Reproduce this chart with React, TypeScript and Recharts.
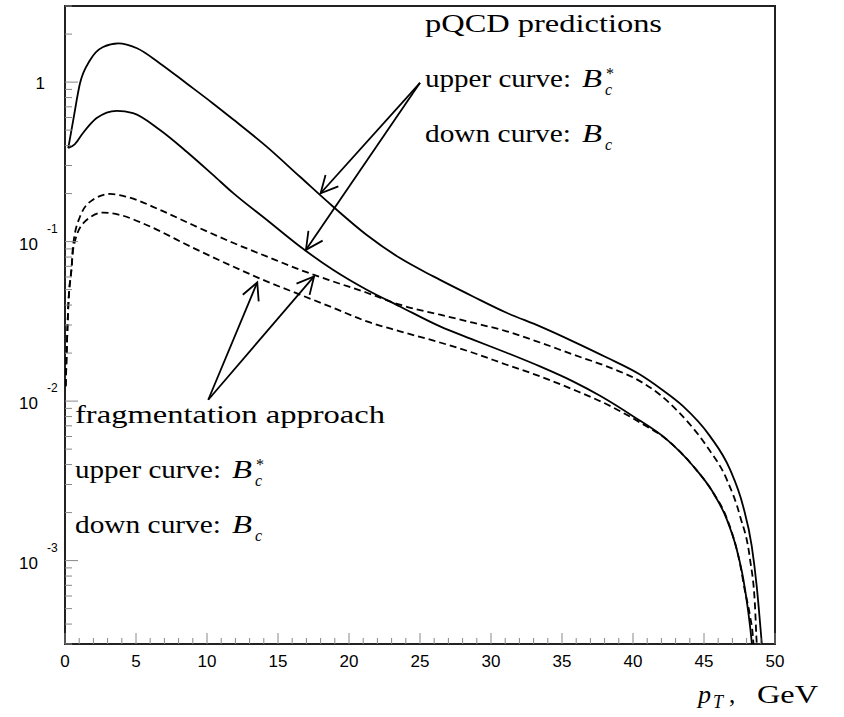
import React from "react";
import { LineChart, Line, XAxis, YAxis, ReferenceArea, ReferenceLine } from "recharts";

// pQCD prediction, B_c^* (upper solid curve)
const pqcdStar = [
  { x: 0.23, y: 0.386 }, { x: 0.58, y: 0.578 }, { x: 1.06, y: 0.986 }, { x: 1.76, y: 1.37 },
  { x: 2.68, y: 1.66 }, { x: 3.75, y: 1.75 }, { x: 5.07, y: 1.63 }, { x: 6.69, y: 1.31 },
  { x: 8.57, y: 0.98 }, { x: 10.42, y: 0.735 }, { x: 11.83, y: 0.585 }, { x: 14.2, y: 0.394 },
  { x: 16.55, y: 0.255 }, { x: 18.87, y: 0.166 }, { x: 21.25, y: 0.11 }, { x: 23.59, y: 0.0788 },
  { x: 25.94, y: 0.0605 }, { x: 28.73, y: 0.0453 }, { x: 31.1, y: 0.0358 }, { x: 33.45, y: 0.0294 },
  { x: 35.77, y: 0.0237 }, { x: 38.15, y: 0.01875 }, { x: 40.49, y: 0.01466 }, { x: 42.0, y: 0.01186 },
  { x: 43.52, y: 0.00929 }, { x: 45.42, y: 0.00603 }, { x: 46.83, y: 0.00373 }, { x: 47.75, y: 0.0022 },
  { x: 48.36, y: 0.001236 }, { x: 48.71, y: 0.000695 }, { x: 49.06, y: 0.000309 }, { x: 49.1, y: 0.00028 },
];

// pQCD prediction, B_c (lower solid curve)
const pqcd = [
  { x: 0.23, y: 0.386 }, { x: 0.7, y: 0.409 }, { x: 1.27, y: 0.48 }, { x: 2.23, y: 0.595 },
  { x: 3.64, y: 0.661 }, { x: 4.79, y: 0.64 }, { x: 6.69, y: 0.501 }, { x: 8.57, y: 0.366 },
  { x: 10.42, y: 0.262 }, { x: 11.83, y: 0.202 }, { x: 14.2, y: 0.137 }, { x: 16.55, y: 0.0931 },
  { x: 18.87, y: 0.0666 }, { x: 21.25, y: 0.0499 }, { x: 23.59, y: 0.0392 }, { x: 26.41, y: 0.0294 },
  { x: 28.73, y: 0.0243 }, { x: 31.1, y: 0.0201 }, { x: 33.45, y: 0.0165 }, { x: 35.77, y: 0.0133 },
  { x: 37.68, y: 0.0108 }, { x: 40.0, y: 0.00804 }, { x: 42.37, y: 0.00575 }, { x: 44.23, y: 0.00392 },
  { x: 45.63, y: 0.00268 }, { x: 46.6, y: 0.00182 }, { x: 47.3, y: 0.00118 }, { x: 47.77, y: 0.000764 },
  { x: 48.12, y: 0.000475 }, { x: 48.36, y: 0.000308 }, { x: 48.4, y: 0.00028 },
];

// fragmentation approach, B_c^* (upper dashed curve)
const fragStar = [
  { x: 0.05, y: 0.0124 }, { x: 0.23, y: 0.0392 }, { x: 0.47, y: 0.0698 }, { x: 0.56, y: 0.0933 },
  { x: 1.06, y: 0.1436 }, { x: 1.97, y: 0.183 }, { x: 3.17, y: 0.199 }, { x: 4.35, y: 0.191 },
  { x: 6.69, y: 0.158 }, { x: 9.01, y: 0.127 }, { x: 11.83, y: 0.0983 }, { x: 14.2, y: 0.0807 },
  { x: 16.55, y: 0.0666 }, { x: 18.87, y: 0.0563 }, { x: 21.25, y: 0.0478 }, { x: 23.59, y: 0.0402 },
  { x: 26.41, y: 0.0348 }, { x: 28.73, y: 0.031 }, { x: 31.1, y: 0.0274 }, { x: 33.45, y: 0.0233 },
  { x: 35.77, y: 0.0196 }, { x: 38.15, y: 0.0165 }, { x: 40.49, y: 0.01334 }, { x: 41.9, y: 0.01096 },
  { x: 43.24, y: 0.00849 }, { x: 45.19, y: 0.00522 }, { x: 46.6, y: 0.00323 }, { x: 47.54, y: 0.0019 },
  { x: 48.24, y: 0.00102 }, { x: 48.59, y: 0.000521 }, { x: 48.71, y: 0.000309 }, { x: 48.75, y: 0.00028 },
];

// fragmentation approach, B_c (lower dashed curve)
const frag = [
  { x: 0.05, y: 0.0124 }, { x: 0.23, y: 0.0392 }, { x: 0.47, y: 0.0698 }, { x: 0.58, y: 0.09 },
  { x: 1.29, y: 0.1305 }, { x: 2.7, y: 0.152 }, { x: 3.87, y: 0.147 }, { x: 5.75, y: 0.127 },
  { x: 9.01, y: 0.0915 }, { x: 11.83, y: 0.0698 }, { x: 14.2, y: 0.0563 }, { x: 16.55, y: 0.0465 },
  { x: 18.87, y: 0.0385 }, { x: 21.25, y: 0.0316 }, { x: 23.59, y: 0.0274 }, { x: 26.41, y: 0.0233 },
  { x: 28.73, y: 0.0201 }, { x: 31.1, y: 0.0169 }, { x: 33.45, y: 0.0143 }, { x: 35.77, y: 0.01183 },
  { x: 38.15, y: 0.00955 }, { x: 40.49, y: 0.00735 }, { x: 42.37, y: 0.00575 }, { x: 44.23, y: 0.00392 },
  { x: 45.63, y: 0.00268 }, { x: 46.6, y: 0.00185 }, { x: 47.54, y: 0.00095 }, { x: 47.89, y: 0.00064 },
  { x: 48.24, y: 0.00045 }, { x: 48.47, y: 0.00031 }, { x: 48.5, y: 0.00028 },
];

const xTicks = [
  0, 1, 2, 3, 4, 5, 6, 7, 8, 9, 10, 11, 12, 13, 14, 15, 16, 17, 18, 19, 20, 21, 22, 23, 24, 25,
  26, 27, 28, 29, 30, 31, 32, 33, 34, 35, 36, 37, 38, 39, 40, 41, 42, 43, 44, 45, 46, 47, 48, 49, 50,
];
const yTicks = [
  0.0003, 0.0004, 0.0005, 0.0006, 0.0007, 0.0008, 0.0009,
  0.001, 0.002, 0.003, 0.004, 0.005, 0.006, 0.007, 0.008, 0.009,
  0.01, 0.02, 0.03, 0.04, 0.05, 0.06, 0.07, 0.08, 0.09,
  0.1, 0.2, 0.3, 0.4, 0.5, 0.6, 0.7, 0.8, 0.9,
  1, 2, 3,
];

const pqcdArrows = [
  { from: { x: 25.0, y: 0.99 }, to: { x: 18.0, y: 0.201 } },
  { from: { x: 25.0, y: 0.99 }, to: { x: 16.97, y: 0.0889 } },
];
const fragArrows = [
  { from: { x: 10.09, y: 0.0102 }, to: { x: 13.54, y: 0.0555 } },
  { from: { x: 10.09, y: 0.0102 }, to: { x: 17.54, y: 0.0605 } },
];

const SANS = "'Liberation Sans', Arial, Helvetica, sans-serif";
const SERIF = "'Liberation Serif', 'Times New Roman', serif";

const YTick = (props: any) => {
  const { x, y, payload } = props;
  const v = payload.value;
  const lg = Math.log10(v);
  const e = Math.round(lg);
  const major = Math.abs(lg - e) < 1e-6;
  const len = major ? 13 : 7;
  return (
    <g>
      <line x1={x} x2={x + len} y1={y} y2={y} stroke="#888" strokeWidth={1} />
      {major && e === 0 && (
        <text x={x - 20} y={y + 7} textAnchor="end" fontFamily={SANS} fontSize={17} fill="#000">1</text>
      )}
      {major && e !== 0 && (
        <g>
          <text x={x - 27} y={y + 8} textAnchor="end" fontFamily={SANS} fontSize={17} fill="#000">10</text>
          <text x={x - 18} y={y - 9} textAnchor="start" fontFamily={SANS} fontSize={12} fill="#000">{`${e}`}</text>
        </g>
      )}
    </g>
  );
};

const XTick = (props: any) => {
  const { x, y, payload } = props;
  const v = payload.value;
  const major = v % 5 === 0;
  return (
    <g>
      <line x1={x} x2={x} y1={y} y2={y - (major ? 11 : 6)} stroke="#888" strokeWidth={1} />
      {major && (
        <text x={x} y={y + 23} textAnchor="middle" fontFamily={SANS} fontSize={17} fill="#000">{v}</text>
      )}
    </g>
  );
};

const ArrowShape = (props: any) => {
  const { x1, y1, x2, y2 } = props;
  if ([x1, y1, x2, y2].some((v) => typeof v !== "number" || isNaN(v))) return <g />;
  const a = Math.atan2(y2 - y1, x2 - x1);
  const L = 19;
  const s = 0.47;
  const ax = x2 - L * Math.cos(a - s);
  const ay = y2 - L * Math.sin(a - s);
  const bx = x2 - L * Math.cos(a + s);
  const by = y2 - L * Math.sin(a + s);
  return (
    <g>
      <line x1={x1} y1={y1} x2={x2} y2={y2} stroke="#000" strokeWidth={1.8} />
      <path d={`M${ax},${ay} L${x2},${y2} L${bx},${by}`} fill="none" stroke="#000" strokeWidth={1.8} />
    </g>
  );
};

const CurveLabel = ({ x, y, text, star }: { x: number; y: number; text: string; star: boolean }) => (
  <g>
    <text x={x} y={y} textLength={146} lengthAdjust="spacingAndGlyphs">{text}</text>
    <text x={x + 157} y={y} fontStyle="italic" fontSize={26} textLength={20} lengthAdjust="spacingAndGlyphs">B</text>
    <text x={x + 180} y={y + 8} fontStyle="italic" fontSize={16}>c</text>
    {star && <text x={x + 181} y={y - 8} fontSize={16}>*</text>}
  </g>
);

export default function App() {
  const arrows = [...pqcdArrows, ...fragArrows];
  return (
    <div style={{ position: "absolute", left: 0, top: 0, width: 844, height: 717, background: "#fff" }}>
      <LineChart width={844} height={717} data={pqcd} margin={{ top: 6, right: 69, bottom: 43, left: 0 }}>
        <XAxis
          type="number"
          dataKey="x"
          domain={[0, 50]}
          allowDataOverflow
          ticks={xTicks}
          interval={0}
          tick={<XTick />}
          tickLine={false}
          axisLine={false}
          tickSize={0}
          tickMargin={0}
          height={30}
        />
        <YAxis
          type="number"
          dataKey="y"
          scale="log"
          domain={[0.0003, 3]}
          allowDataOverflow
          ticks={yTicks}
          interval={0}
          tick={<YTick />}
          tickLine={false}
          axisLine={false}
          tickSize={0}
          tickMargin={0}
          width={65}
        />
        <Line data={pqcdStar} dataKey="y" type="monotone" stroke="#000" strokeWidth={1.8} dot={false} isAnimationActive={false} />
        <Line data={pqcd} dataKey="y" type="monotone" stroke="#000" strokeWidth={1.8} dot={false} isAnimationActive={false} />
        <Line data={fragStar} dataKey="y" type="monotone" stroke="#000" strokeWidth={1.8} strokeDasharray="7 4" dot={false} isAnimationActive={false} />
        <Line data={frag} dataKey="y" type="monotone" stroke="#000" strokeWidth={1.8} strokeDasharray="7 4" dot={false} isAnimationActive={false} />
        {arrows.map((a, i) => (
          <ReferenceLine key={i} segment={[a.from, a.to]} ifOverflow="visible" shape={ArrowShape} />
        ))}
        <ReferenceArea x1={0} x2={50} y1={0.0003} y2={3} ifOverflow="visible" fill="none" fillOpacity={0} stroke="#222" strokeWidth={2} />
      </LineChart>
      <svg width={844} height={717} style={{ position: "absolute", left: 0, top: 0, pointerEvents: "none" }}>
        <g fontFamily={SERIF} fontSize={25} fill="#000">
          <text x={425} y={32} textLength={237} lengthAdjust="spacingAndGlyphs">pQCD predictions</text>
          <CurveLabel x={425} y={87} text="upper curve:" star={true} />
          <CurveLabel x={425} y={142} text="down curve:" star={false} />
          <text x={75} y={423} textLength={310} lengthAdjust="spacingAndGlyphs">fragmentation approach</text>
          <CurveLabel x={75} y={478} text="upper curve:" star={true} />
          <CurveLabel x={75} y={533} text="down curve:" star={false} />
          <text x={698} y={703} fontStyle="italic" fontSize={26}>p</text>
          <text x={713} y={708} fontStyle="italic" fontSize={18}>T</text>
          <text x={729} y={703}>,</text>
          <text x={757} y={703} textLength={61} lengthAdjust="spacingAndGlyphs">GeV</text>
        </g>
      </svg>
    </div>
  );
}
